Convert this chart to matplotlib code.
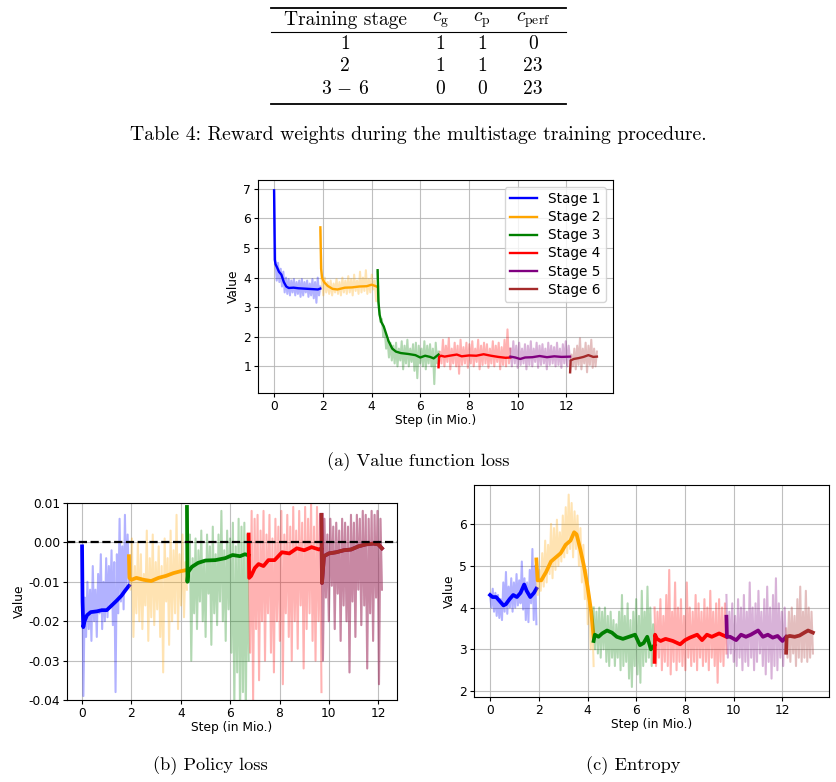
import matplotlib

matplotlib.use("Agg")
import matplotlib.pyplot as plt
import numpy as np
from matplotlib.lines import Line2D

plt.rcParams["mathtext.fontset"] = "cm"
plt.rcParams["font.size"] = 8.8
plt.rcParams["axes.unicode_minus"] = True

W, H = 837, 782

# stage boundaries (in Mio. steps)
stage_bounds = [0.0, 1.9, 4.25, 6.75, 9.7, 12.15, 13.25]
stage_colors = ["blue", "orange", "green", "red", "purple", "brown"]
stage_labels = ["Stage 1", "Stage 2", "Stage 3", "Stage 4", "Stage 5", "Stage 6"]

# table content
table_header = ["Training stage", r"$c_{\mathrm{g}}$", r"$c_{\mathrm{p}}$", r"$c_{\mathrm{perf}}$"]
table_rows = [
    ["1", "1", "1", "0"],
    ["2", "1", "1", "23"],
    [r"$3\,-\,6$", "0", "0", "23"],
]

# ---------------- (a) value function loss ----------------
val_raw = [
    [6.9, 4.6, 3.9, 4.5, 3.85, 4.3, 3.7, 4.2, 3.5, 4.0, 3.45, 3.95, 3.4, 3.9, 3.5, 3.95, 3.4, 3.85,
     3.45, 3.9, 3.35, 3.95, 3.4, 3.85, 3.5, 3.9, 3.35, 3.8, 3.4, 3.95, 3.3, 3.85, 3.15, 4.0, 3.4, 3.7],
    [5.6, 3.9, 3.4, 4.0, 3.5, 3.85, 3.45, 3.9, 3.4, 3.8, 3.5, 3.95, 3.45, 3.85, 3.4, 4.0, 3.5, 3.9,
     3.45, 4.05, 3.5, 3.95, 3.4, 4.1, 3.55, 3.9, 3.45, 4.2, 3.5, 4.0, 3.55, 4.25, 3.45, 3.95, 3.5,
     4.1, 3.6, 3.9, 3.2, 3.7],
    [4.2, 3.0, 2.5, 2.6, 2.0, 2.2, 1.6, 1.9, 1.3, 1.8, 1.2, 1.7, 1.1, 1.8, 1.0, 1.6, 1.2, 1.85, 0.9,
     1.7, 1.1, 1.9, 1.0, 1.6, 1.15, 1.75, 0.85, 1.8, 0.6, 1.7, 1.1, 1.6, 1.0, 1.85, 0.9, 1.7, 1.1,
     1.75, 1.0, 1.6, 0.4, 1.8, 1.1, 1.5],
    [1.0, 1.5, 1.1, 1.9, 1.0, 1.7, 1.15, 1.95, 0.9, 1.6, 1.1, 1.8, 1.0, 1.7, 0.75, 1.9, 1.05, 1.65,
     1.1, 1.8, 0.95, 1.75, 1.1, 1.85, 1.0, 1.6, 1.15, 1.9, 0.9, 1.7, 1.05, 1.8, 1.1, 1.75, 0.95, 1.6,
     1.1, 1.85, 1.0, 1.7, 1.15, 1.8, 0.9, 1.65, 1.05, 1.9, 1.0, 2.25, 1.1, 1.6],
    [1.6, 1.0, 1.85, 1.1, 1.7, 0.95, 1.8, 1.05, 1.6, 1.1, 1.75, 0.9, 1.7, 1.05, 1.85, 1.0, 1.6, 1.15,
     1.8, 0.95, 1.7, 1.05, 1.75, 1.1, 1.6, 0.9, 1.8, 1.05, 1.7, 1.1, 1.65, 1.0, 1.8, 1.05, 1.6, 0.95,
     1.75, 1.1, 1.85, 1.0, 1.7, 1.2],
    [0.85, 1.4, 1.0, 1.6, 0.9, 1.7, 1.05, 1.95, 0.9, 1.6, 1.1, 1.8, 0.8, 1.7, 1.05, 1.9, 0.95, 1.6,
     1.0, 1.5],
]
val_smooth_x = [
    [0, 0.03, 0.06, 0.12, 0.2, 0.3, 0.4, 0.5, 0.6, 0.8, 1.0, 1.2, 1.4, 1.6, 1.8, 1.9],
    [1.9, 1.93, 1.97, 2.05, 2.2, 2.4, 2.6, 2.9, 3.2, 3.5, 3.8, 4.0, 4.15, 4.25],
    [4.25, 4.28, 4.33, 4.4, 4.5, 4.6, 4.7, 4.85, 5.0, 5.2, 5.5, 5.8, 6.0, 6.2, 6.4, 6.55, 6.75],
    [6.75, 6.77, 6.85, 7.0, 7.2, 7.5, 7.7, 8.0, 8.3, 8.6, 8.9, 9.2, 9.5, 9.7],
    [9.7, 9.9, 10.1, 10.3, 10.6, 10.9, 11.2, 11.5, 11.8, 12.15],
    [12.15, 12.17, 12.3, 12.5, 12.7, 12.9, 13.1, 13.25],
]
val_smooth_y = [
    [6.95, 4.6, 4.45, 4.35, 4.2, 4.1, 3.85, 3.7, 3.65, 3.66, 3.64, 3.63, 3.62, 3.61, 3.6, 3.63],
    [5.7, 4.3, 4.0, 3.85, 3.72, 3.62, 3.6, 3.66, 3.67, 3.7, 3.71, 3.76, 3.72, 3.68],
    [4.25, 3.2, 2.75, 2.5, 2.35, 2.1, 1.85, 1.6, 1.5, 1.45, 1.42, 1.38, 1.3, 1.36, 1.32, 1.27, 1.4],
    [0.97, 1.32, 1.36, 1.33, 1.36, 1.4, 1.34, 1.37, 1.36, 1.41, 1.36, 1.32, 1.29, 1.3],
    [1.33, 1.3, 1.25, 1.3, 1.31, 1.35, 1.31, 1.34, 1.32, 1.33],
    [0.8, 1.2, 1.25, 1.28, 1.32, 1.38, 1.32, 1.33],
]

# ---------------- (b) policy loss ----------------
# stages 5 and 6 share the same steps in this panel
pol_bounds = [0.0, 1.9, 4.25, 6.75, 9.7, 12.15]
pol_raw = [
    [-0.001, -0.039, -0.014, -0.024, -0.01, -0.022, -0.012, -0.025, -0.006, -0.02, -0.012, -0.024,
     -0.008, -0.018, -0.003, -0.022, -0.01, -0.02, -0.004, -0.019, -0.006, -0.016, -0.002, -0.021,
     -0.005, -0.038, -0.003, -0.018, 0.006, -0.015, -0.001, -0.017, 0.007, -0.012, 0.002, -0.01],
    [-0.004, -0.012, 0.001, -0.024, -0.006, -0.018, 0.0, -0.02, -0.003, -0.022, -0.008, -0.016,
     0.003, -0.025, -0.004, -0.019, 0.002, -0.021, -0.005, -0.017, -0.001, -0.024, -0.006, -0.033,
     0.001, -0.015, -0.004, -0.026, 0.003, -0.02, -0.002, -0.018, 0.007, -0.022, -0.003, -0.016,
     0.002, -0.019, -0.005, -0.012],
    [0.009, -0.01, 0.002, -0.03, -0.004, -0.018, 0.001, -0.022, -0.002, -0.015, 0.003, -0.02,
     -0.005, -0.024, 0.002, -0.013, -0.001, -0.026, 0.004, -0.018, -0.003, -0.021, 0.002, -0.015,
     0.008, -0.02, -0.002, -0.025, 0.003, -0.017, 0.001, -0.028, 0.005, -0.042, -0.001, -0.033,
     0.006, -0.045, 0.004, -0.038, 0.005, -0.045, 0.002, -0.03],
    [0.002, -0.028, 0.008, -0.04, 0.006, -0.022, 0.007, -0.035, 0.003, -0.02, 0.008, -0.03, 0.002,
     -0.018, 0.007, -0.028, 0.001, -0.033, 0.006, -0.02, 0.004, -0.025, 0.008, -0.036, 0.002,
     -0.018, 0.007, -0.024, 0.004, -0.03, 0.009, -0.02, 0.003, -0.027, 0.008, -0.016, 0.005,
     -0.032, 0.009, -0.022, 0.006, -0.018, 0.01, -0.025, 0.004, -0.03, 0.009, -0.02, 0.007, -0.038],
    [0.007, -0.03, 0.006, -0.014, 0.002, -0.02, 0.006, -0.011, 0.004, -0.022, 0.005, -0.013, 0.003,
     -0.025, 0.006, -0.016, 0.005, -0.02, 0.004, -0.033, 0.007, -0.015, 0.005, -0.024, 0.007,
     -0.012, 0.006, -0.021, 0.008, -0.016, 0.007, -0.032, 0.006, -0.018, 0.008, -0.025, 0.007,
     -0.014, 0.008, -0.036, 0.006, -0.012],
]
pol_smooth_x = [
    [0, 0.02, 0.05, 0.1, 0.2, 0.35, 0.6, 0.8, 1.0, 1.2, 1.4, 1.6, 1.75, 1.9],
    [1.9, 1.92, 2.0, 2.2, 2.5, 2.8, 3.1, 3.4, 3.7, 4.0, 4.25],
    [4.25, 4.27, 4.3, 4.45, 4.7, 5.0, 5.4, 5.8, 6.1, 6.4, 6.6, 6.75],
    [6.75, 6.77, 6.85, 7.0, 7.15, 7.35, 7.55, 7.8, 8.1, 8.4, 8.7, 9.0, 9.3, 9.6, 9.7],
    [9.7, 9.72, 9.8, 10.0, 10.3, 10.6, 10.9, 11.2, 11.5, 11.8, 12.0, 12.15],
]
pol_smooth_y = [
    [-0.001, -0.015, -0.0215, -0.02, -0.0185, -0.0177, -0.0175, -0.0172, -0.0172, -0.016, -0.0148,
     -0.0135, -0.0122, -0.011],
    [-0.0035, -0.009, -0.0095, -0.009, -0.0095, -0.0098, -0.009, -0.0085, -0.0078, -0.0073, -0.007],
    [0.009, -0.01, -0.0075, -0.0062, -0.0052, -0.0046, -0.0045, -0.004, -0.0032, -0.0035, -0.003,
     -0.0033],
    [0.002, -0.009, -0.0085, -0.0065, -0.0055, -0.006, -0.0045, -0.0045, -0.0025, -0.0028, -0.0015,
     -0.002, -0.0012, -0.0018, -0.0015],
    [0.007, -0.0103, -0.0035, -0.0028, -0.0025, -0.002, -0.0018, -0.001, -0.0005, -0.0003, -0.0005,
     -0.0015],
]

# ---------------- (c) entropy ----------------
ent_raw = [
    [4.3, 4.0, 4.45, 3.9, 4.35, 3.8, 4.3, 3.75, 4.2, 3.7, 4.6, 3.9, 4.85, 3.85, 4.5, 4.0, 4.7, 3.9,
     4.6, 4.0, 4.8, 4.05, 4.65, 4.1, 5.1, 3.95, 4.7, 3.7, 4.6, 3.65, 4.9, 4.1, 5.4, 3.7, 5.0, 3.6],
    [5.1, 4.3, 4.9, 4.4, 5.3, 4.5, 5.6, 4.6, 5.5, 4.8, 6.0, 4.7, 5.9, 4.9, 6.1, 5.0, 5.8, 5.1, 6.2,
     5.2, 6.4, 5.3, 6.7, 5.4, 6.5, 5.2, 6.3, 5.4, 6.2, 5.0, 5.9, 4.6, 5.5, 4.2, 4.9, 3.6, 4.3, 3.0,
     3.8, 2.6],
    [4.0, 3.0, 3.9, 2.9, 4.0, 2.8, 3.9, 3.0, 4.0, 2.7, 3.8, 2.6, 3.9, 2.8, 3.7, 2.6, 3.6, 2.8, 3.9,
     2.5, 4.3, 2.6, 3.8, 2.7, 4.1, 2.3, 3.7, 2.1, 3.9, 2.6, 4.2, 2.4, 3.8, 2.2, 4.4, 2.6, 3.9, 2.7,
     4.5, 2.8, 4.0, 2.6, 3.6, 2.9],
    [4.0, 2.6, 3.9, 2.8, 4.2, 2.5, 3.8, 2.7, 4.3, 2.6, 4.9, 2.4, 3.9, 2.7, 4.6, 2.5, 4.0, 2.7, 4.2,
     2.6, 3.8, 2.5, 4.6, 2.8, 4.0, 2.6, 3.9, 2.7, 4.3, 2.5, 4.1, 2.8, 3.9, 2.6, 4.2, 2.7, 4.0, 2.5,
     4.4, 2.8, 3.9, 2.6, 4.1, 2.2, 4.2, 2.7, 4.0, 2.6, 4.1, 2.9],
    [4.3, 2.8, 3.9, 2.9, 4.1, 2.7, 3.8, 2.6, 4.2, 2.8, 4.0, 2.5, 4.3, 2.7, 3.9, 2.6, 4.6, 2.8, 4.0,
     2.5, 4.1, 2.7, 4.4, 2.9, 3.9, 2.6, 4.2, 2.4, 4.5, 2.7, 4.0, 2.3, 4.3, 2.6, 4.7, 2.5, 4.1, 2.8,
     3.9, 2.6, 4.0, 2.9],
    [3.5, 2.8, 3.9, 2.7, 4.0, 2.9, 3.8, 2.6, 4.2, 2.8, 4.5, 2.7, 3.9, 2.8, 4.4, 2.7, 4.0, 2.8, 3.9,
     2.9],
]
ent_smooth_x = [
    [0, 0.1, 0.25, 0.4, 0.55, 0.65, 0.8, 0.95, 1.1, 1.25, 1.4, 1.5, 1.65, 1.8, 1.9],
    [1.9, 1.95, 2.1, 2.3, 2.5, 2.7, 2.9, 3.1, 3.3, 3.45, 3.55, 3.7, 3.85, 4.0, 4.15, 4.25],
    [4.25, 4.3, 4.45, 4.6, 4.8, 5.0, 5.2, 5.45, 5.7, 5.95, 6.15, 6.3, 6.45, 6.6, 6.75],
    [6.75, 6.77, 6.85, 7.0, 7.2, 7.5, 7.8, 8.0, 8.2, 8.5, 8.7, 8.9, 9.1, 9.4, 9.7],
    [9.7, 9.72, 9.85, 10.1, 10.3, 10.5, 10.7, 11.0, 11.2, 11.4, 11.6, 11.8, 12.0, 12.15],
    [12.15, 12.17, 12.3, 12.5, 12.7, 12.9, 13.05, 13.25],
]
ent_smooth_y = [
    [4.3, 4.25, 4.25, 4.15, 4.05, 4.08, 4.2, 4.3, 4.25, 4.35, 4.55, 4.4, 4.25, 4.35, 4.45],
    [5.15, 4.65, 4.65, 4.85, 5.1, 5.2, 5.3, 5.5, 5.6, 5.8, 5.75, 5.4, 5.0, 4.5, 3.9, 3.3],
    [3.2, 3.35, 3.3, 3.38, 3.45, 3.4, 3.3, 3.25, 3.3, 3.35, 3.1, 3.15, 3.3, 3.0, 3.1],
    [2.7, 3.35, 3.25, 3.2, 3.25, 3.2, 3.12, 3.22, 3.28, 3.35, 3.22, 3.35, 3.3, 3.38, 3.3],
    [3.78, 3.3, 3.3, 3.22, 3.35, 3.3, 3.35, 3.45, 3.3, 3.35, 3.28, 3.32, 3.2, 3.3],
    [2.92, 3.3, 3.32, 3.3, 3.33, 3.4, 3.45, 3.4],
]

RAW_LW = 1.5


def px_rect(left, top, right, bottom):
    return [left / W, 1 - bottom / H, (right - left) / W, (bottom - top) / H]


def draw_stages(ax, bounds, raw, sx, sy, colors, labels, lw):
    for k in range(len(raw)):
        xr = np.linspace(bounds[k], bounds[k + 1], len(raw[k]))
        ax.plot(xr, raw[k], color=colors[k], alpha=0.3, lw=RAW_LW)
        ax.plot(sx[k], sy[k], color=colors[k], lw=lw, label=labels[k])


def style_axes(ax):
    ax.grid(True, color="#b0b0b0", lw=0.8, alpha=0.8)
    ax.set_axisbelow(True)
    ax.set_xticks([0, 2, 4, 6, 8, 10, 12])
    ax.set_xlabel("Step (in Mio.)", labelpad=1)
    ax.set_ylabel("Value", labelpad=2)
    ax.tick_params(length=3, pad=2)


fig = plt.figure(figsize=(W / 100, H / 100), dpi=100)

# ---- table ----
serif = "cmr10"
tab_fs = 14
tab_left, tab_right = 271 / W, 566 / W
for y_px, lw in [(8, 1.3), (32, 0.8), (104, 1.3)]:
    fig.add_artist(Line2D([tab_left, tab_right], [1 - y_px / H] * 2, color="black", lw=lw,
                          transform=fig.transFigure))
col_x = [345, 440, 482, 533]
for j, txt in enumerate(table_header):
    fig.text(col_x[j] / W, 1 - 20 / H, txt, ha="center", va="center", fontsize=tab_fs,
             family=serif)
for i, row in enumerate(table_rows):
    for j, txt in enumerate(row):
        fig.text(col_x[j] / W, 1 - (44 + 22.5 * i) / H, txt, ha="center", va="center",
                 fontsize=tab_fs, family=serif)
fig.text(418 / W, 1 - 135 / H,
         "Table 4: Reward weights during the multistage training procedure.",
         ha="center", va="center", fontsize=14.2, family=serif)

# ---- (a) ----
ax_a = fig.add_axes(px_rect(258, 180, 613, 393))
draw_stages(ax_a, stage_bounds, val_raw, val_smooth_x, val_smooth_y, stage_colors, stage_labels, 1.7)
style_axes(ax_a)
ax_a.set_xlim(-0.66, 13.91)
ax_a.set_ylim(0.1, 7.3)
ax_a.legend(loc="upper right", fontsize=9.8, handlelength=2.0, borderpad=0.4, labelspacing=0.3)
fig.text(418 / W, 1 - 462 / H, "(a) Value function loss", ha="center", va="center",
         fontsize=13.2, family=serif)

# ---- (b) ----
ax_b = fig.add_axes(px_rect(67, 503, 397, 700))
pol_colors = ["blue", "orange", "green", "red", "purple"]
draw_stages(ax_b, pol_bounds, pol_raw, pol_smooth_x, pol_smooth_y, pol_colors, stage_labels, 2.7)
# stage 6 covers the same steps as stage 5 here
xr6 = np.linspace(pol_bounds[4], pol_bounds[5], len(pol_raw[4]))
ax_b.plot(xr6, pol_raw[4], color="brown", alpha=0.3, lw=RAW_LW)
ax_b.plot(pol_smooth_x[4], pol_smooth_y[4], color="brown", lw=2.7)
ax_b.axhline(0, color="black", ls="--", lw=1.6)
style_axes(ax_b)
ax_b.set_xlim(-0.61, 12.76)
ax_b.set_ylim(-0.04, 0.01)
ax_b.set_yticks([-0.04, -0.03, -0.02, -0.01, 0.0, 0.01])
ax_b.yaxis.set_major_formatter(matplotlib.ticker.FormatStrFormatter("%.2f"))
fig.text(210 / W, 1 - 766 / H, "(b) Policy loss", ha="center", va="center",
         fontsize=13.2, family=serif)

# ---- (c) ----
ax_c = fig.add_axes(px_rect(474, 485, 829, 697))
draw_stages(ax_c, stage_bounds, ent_raw, ent_smooth_x, ent_smooth_y, stage_colors, stage_labels, 2.7)
style_axes(ax_c)
ax_c.set_xlim(-0.66, 13.91)
ax_c.set_ylim(1.86, 6.93)
ax_c.set_yticks([2, 3, 4, 5, 6])
fig.text(633 / W, 1 - 766 / H, "(c) Entropy", ha="center", va="center",
         fontsize=13.2, family=serif)

fig.savefig("out.png", dpi=100)
